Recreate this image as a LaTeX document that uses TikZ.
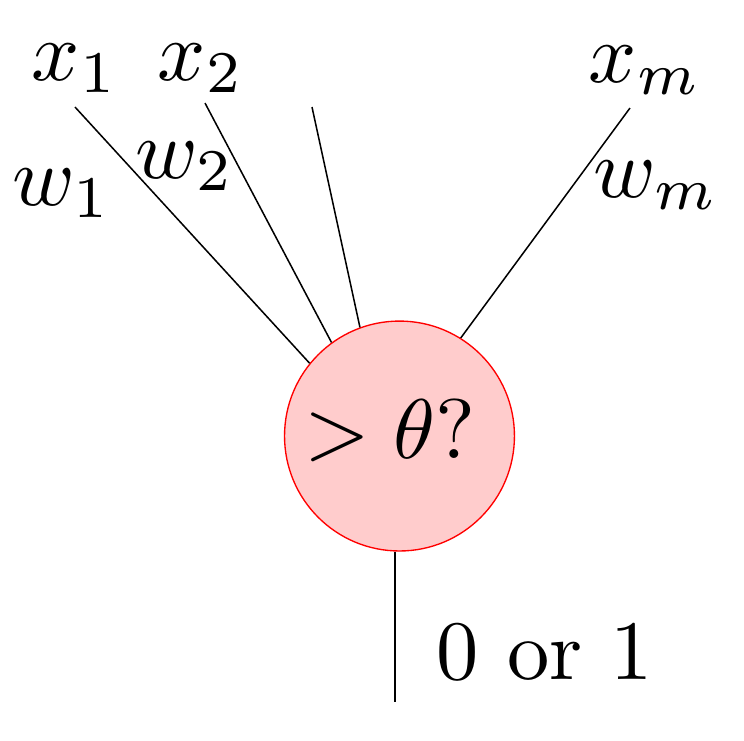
\documentclass[tikz,border=0pt]{standalone}
\begin{document}
\begin{tikzpicture}[x=0.1183pt,y=-0.1183pt,line width=0.18pt,
  wire/.style={draw=black},
  neuron/.style={circle,draw=red,fill=red!20,minimum size=27.2pt,inner sep=0pt,line width=0.16pt},
  lbl/.style={inner sep=0pt,anchor=base}]
\useasboundingbox (0,0) rectangle (744,740);
\node[neuron] (c) at (399.5,436) {};
\node[lbl] (t) at (390,458) {$>\theta?$};
\coordinate (e1) at (75,107);
\coordinate (e2) at (205,103);
\coordinate (e3) at (312,107);
\coordinate (em) at (630,108);
\coordinate (o) at (395,702);
\draw[wire] (e1) -- (c.141);
\draw[wire] (e2) -- (c.126);
\draw[wire] (e3) -- (c.110);
\draw[wire] (em) -- (c.58);
\draw[wire] (o |- c.south) -- (o);
\node[lbl] (x1) at (75,80) {$x_1$};
\node[lbl] (x2) at (201,80) {$x_2$};
\node[lbl] (xm) at (645,82) {$x_m$};
\node[lbl] (w1) at (62,205) {$w_1$};
\node[lbl] (w2) at (185,178) {$w_2$};
\node[lbl] (wm) at (656,197) {$w_m$};
\node[lbl] (out) at (545,679) {0 or 1};
\end{tikzpicture}
\end{document}
